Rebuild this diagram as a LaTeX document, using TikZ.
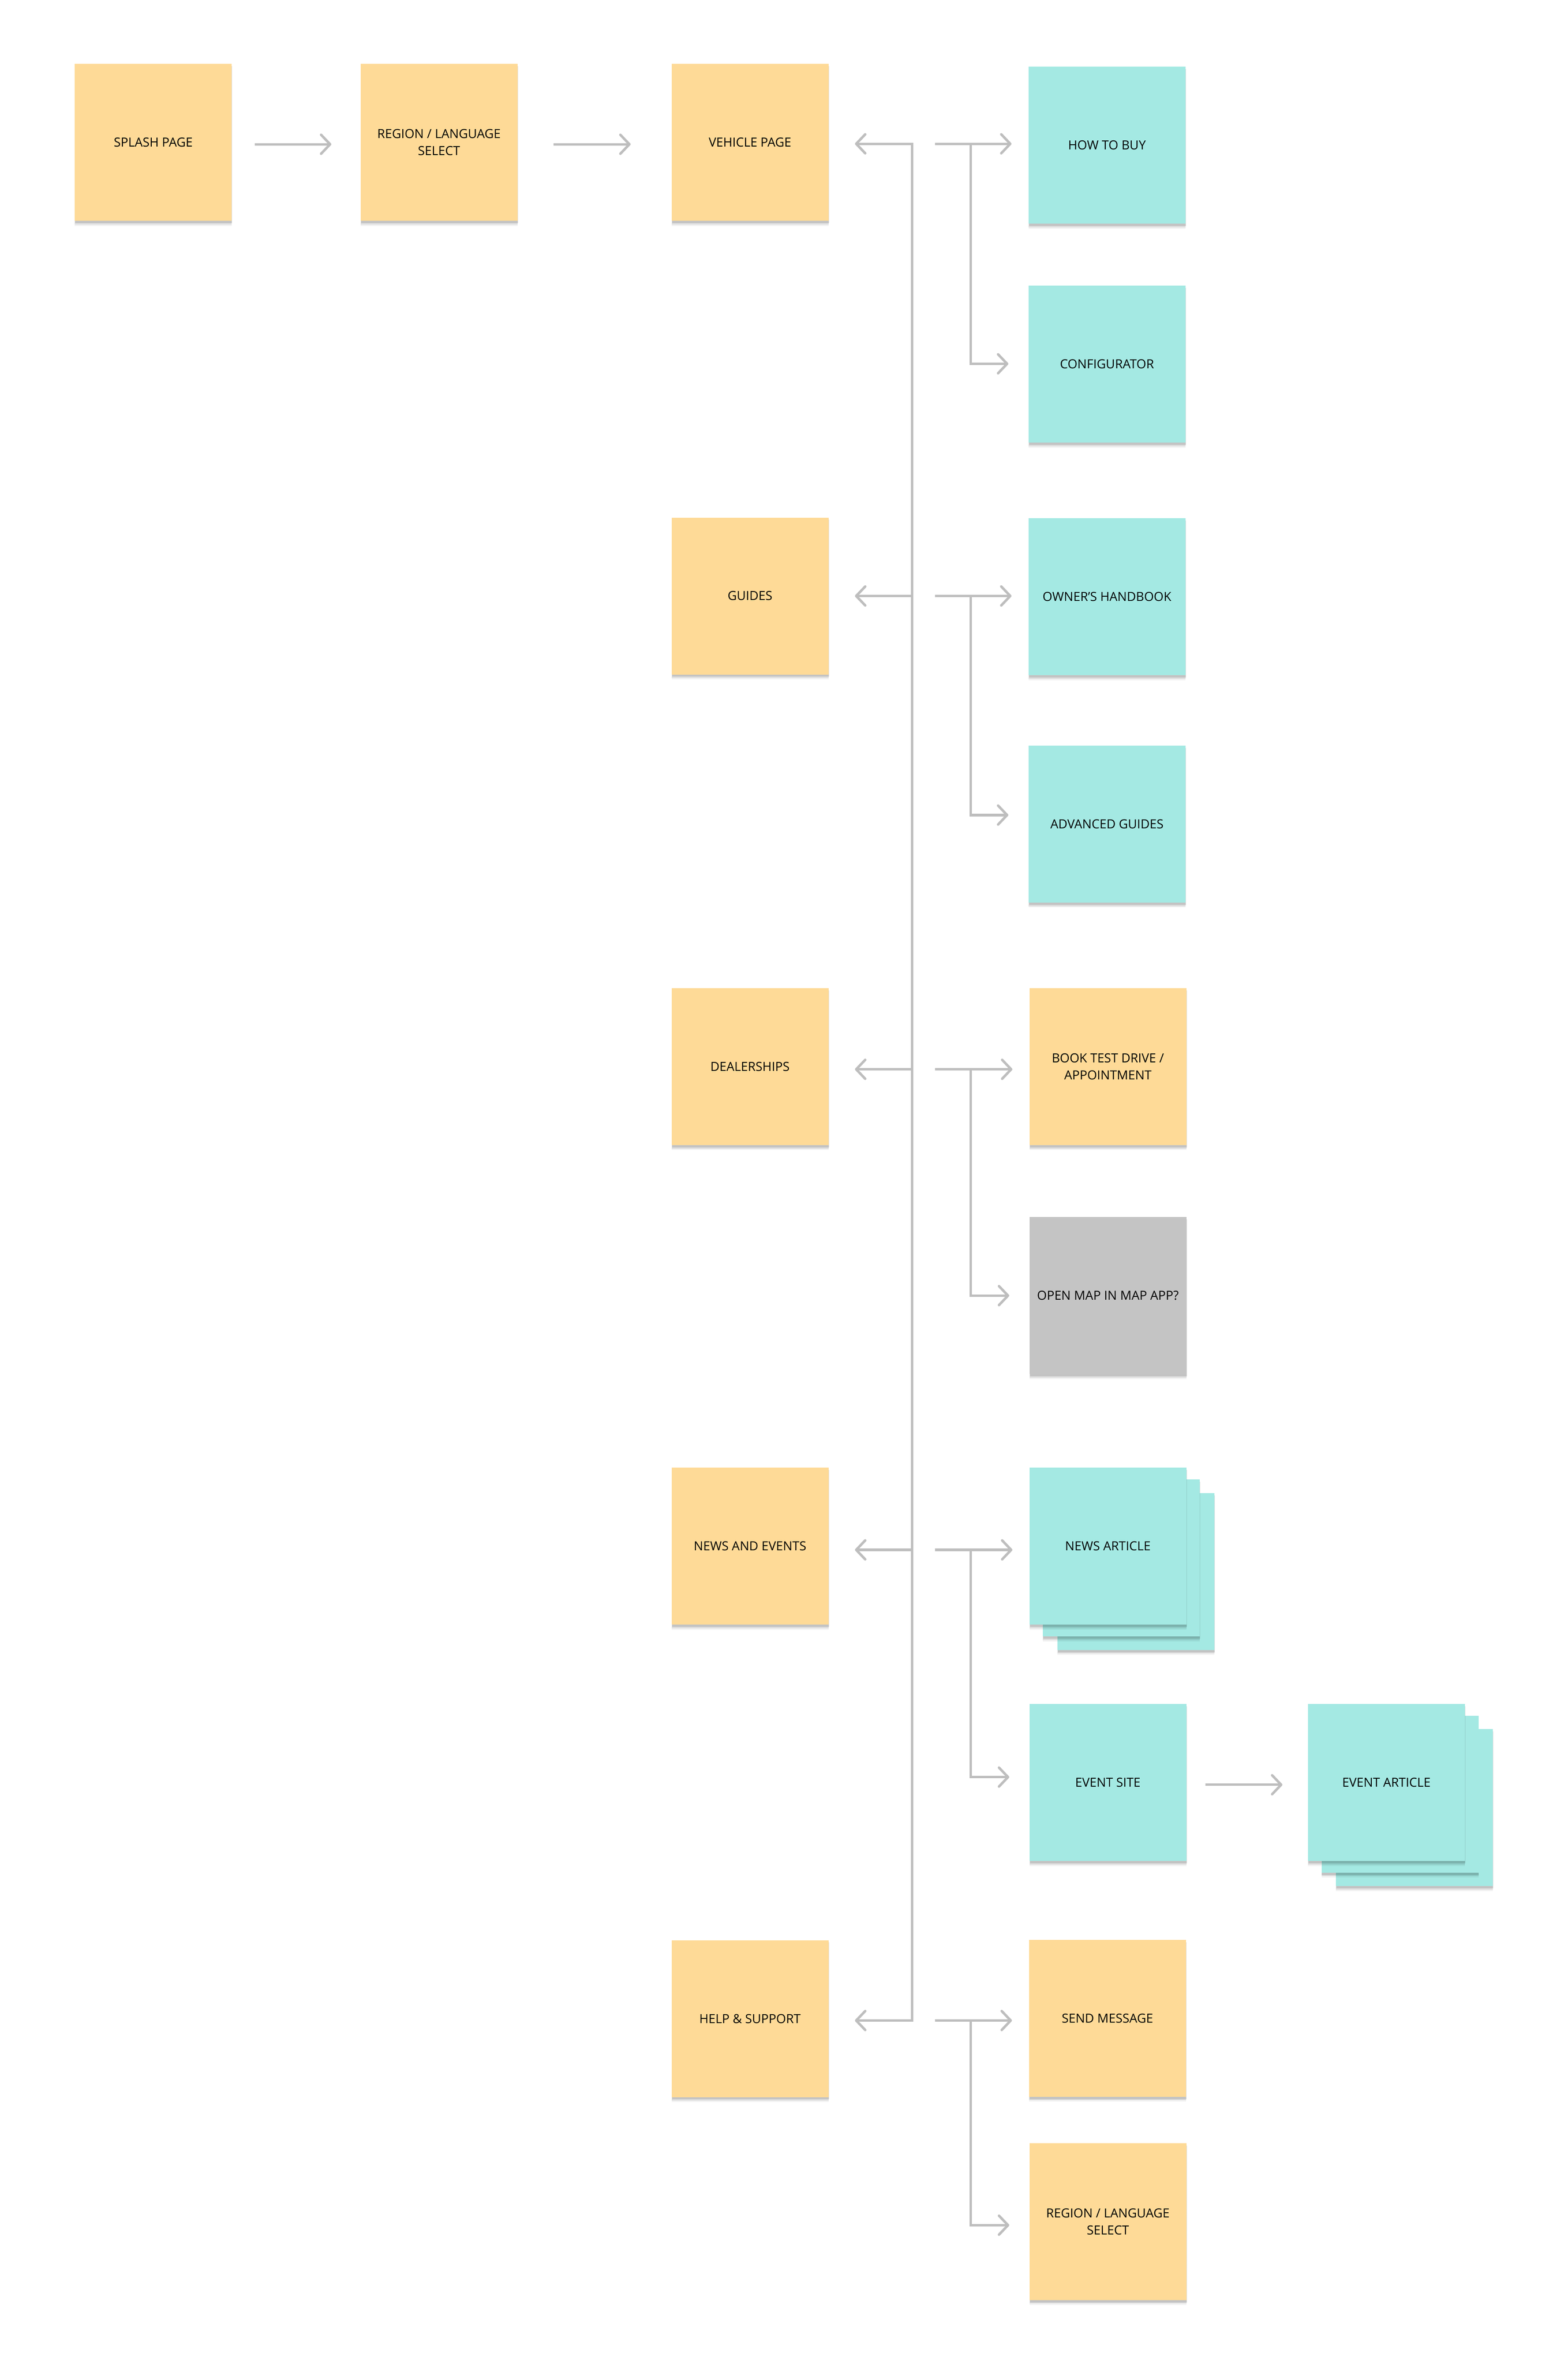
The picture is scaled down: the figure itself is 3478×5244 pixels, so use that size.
\documentclass[tikz,border=0pt]{standalone}
\usepackage{fontspec}
\setmainfont{Open Sans}
\usetikzlibrary{arrows.meta,shadows}
\definecolor{ylw}{HTML}{FEDA97}
\definecolor{tealc}{HTML}{A4E9E3}
\definecolor{gryc}{HTML}{C4C4C4}
\definecolor{linec}{HTML}{BEBEBE}
\tikzset{
  card/.style={rectangle, minimum width=3.48cm, minimum height=3.48cm, inner sep=0pt,
    align=center, font=\fontsize{7.9}{10.8}\selectfont, text=black,
    drop shadow={shadow xshift=0cm, shadow yshift=-0.11cm, opacity=0.05, fill=black},
    drop shadow={shadow xshift=0cm, shadow yshift=-0.08cm, opacity=0.08, fill=black},
    drop shadow={shadow xshift=0.01cm, shadow yshift=-0.05cm, opacity=0.12, fill=black}},
  yel/.style={card, fill=ylw},
  tea/.style={card, fill=tealc},
  gra/.style={card, fill=gryc},
  conn/.style={draw=linec, line width=0.055cm},
  barb/.tip={Straight Barb[length=0.2cm, width=0.42cm, round]},
  arr/.style={conn, -barb},
}
\begin{document}
\begin{tikzpicture}[x=0.01cm, y=-0.01cm]
\fill[white] (0,0) rectangle (3478,5244);
\useasboundingbox (0,0) rectangle (3478,5244);

% top row
\node[yel] (splash)  at (340,316)  {SPLASH PAGE};
\node[yel] (region)  at (974,316)  {REGION / LANGUAGE\\SELECT};
\node[yel] (vehicle) at (1664,316) {VEHICLE PAGE};

% left column
\node[yel] (guides) at (1664,1322) {GUIDES};
\node[yel] (dealer) at (1664,2366) {DEALERSHIPS};
\node[yel] (news)   at (1664,3430) {NEWS AND EVENTS};
\node[yel] (help)   at (1664,4478) {HELP \& SUPPORT};

% right column
\node[tea] (howto)  at (2456,322)  {HOW TO BUY};
\node[tea] (config) at (2456,808)  {CONFIGURATOR};
\node[tea] (owner)  at (2456,1324) {OWNER’S HANDBOOK};
\node[tea] (adv)    at (2456,1828) {ADVANCED GUIDES};
\node[yel] (book)   at (2458,2366) {BOOK TEST DRIVE /\\APPOINTMENT};
\node[gra] (map)    at (2458,2874) {OPEN MAP IN MAP APP?};
\node[tea] (na3)    at (2520,3486) {};
\node[tea] (na2)    at (2488,3456) {};
\node[tea] (article) at (2458,3430) {NEWS ARTICLE};
\node[tea] (eventsite) at (2458,3954) {EVENT SITE};
\node[yel] (send)   at (2457,4477) {SEND MESSAGE};
\node[yel] (region2) at (2458,4928) {REGION / LANGUAGE\\SELECT};

% event article stack
\node[tea] (ea3) at (3138,4010) {};
\node[tea] (ea2) at (3106,3980) {};
\node[tea] (eventart) at (3076,3954) {EVENT ARTICLE};

% top row arrows
\draw[arr, shorten <=0.5cm, shorten >=0.64cm] ([yshift=-0.04cm]splash.east) -- ([yshift=-0.04cm]region.west);
\draw[arr, shorten <=0.79cm, shorten >=0.9cm] ([yshift=-0.04cm]region.east) -- ([yshift=-0.04cm]vehicle.west);

% trunk
\coordinate (t1) at (2024,319);
\coordinate (t2) at (2024,4482);
\draw[conn, barb-barb, shorten <=0.58cm, shorten >=0.58cm]
  (vehicle.east |- t1) -- (t1) -- (t2) -- (help.east |- t2);
\coordinate (jg) at (2024,1322);
\coordinate (jd) at (2024,2372);
\coordinate (jn) at (2024,3438);
\draw[arr, shorten >=0.58cm] (jg) -- (guides.east |- jg);
\draw[arr, shorten >=0.58cm] (jd) -- (dealer.east |- jd);
\draw[arr, shorten >=0.58cm] (jn) -- (news.east |- jn);

% right branches
\foreach \ya/\yb/\na/\nb in {319/807/howto/config, 1322/1808/owner/adv, 2372/2874/book/map, 3438/3942/article/eventsite, 4482/4936/send/region2}{
  \coordinate (s) at (2074,\ya);
  \coordinate (k) at (2154,\ya);
  \coordinate (e) at (2154,\yb);
  \draw[arr, shorten >=0.37cm] (s) -- (\na.west |- s);
  \draw[arr, shorten >=0.44cm] (k) -- (e) -- (\nb.west |- e);
}

% event site -> event article
\draw[arr, shorten <=0.42cm, shorten >=0.56cm] ([yshift=-0.05cm]eventsite.east) -- ([yshift=-0.05cm]eventart.west);
\end{tikzpicture}
\end{document}
